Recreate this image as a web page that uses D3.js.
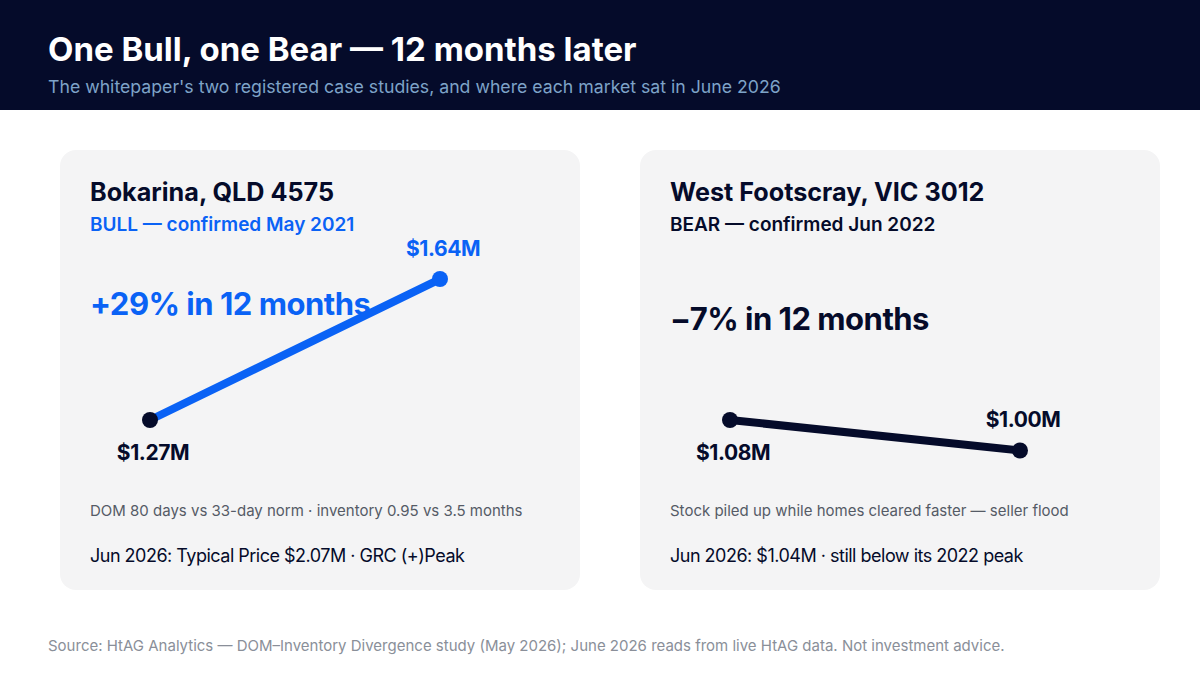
<!DOCTYPE html>
<html><head><meta charset="utf-8">
<script src="https://cdn.jsdelivr.net/npm/d3@7"></script>
<style>
html,body{margin:0;padding:0;background:#fff;}
svg text{font-family:Inter,"Noto Sans",sans-serif;}
</style></head>
<body><svg id="c" width="1200" height="675"></svg>
<script>
// ---- data ----
const suburbs = ["Bokarina, QLD 4575", "West Footscray, VIC 3012"];
const statuses = ["BULL — confirmed May 2021", "BEAR — confirmed Jun 2022"];
const startPrices = [1.27, 1.08];   // $M at confirmation
const endPrices = [1.64, 1.00];     // $M 12 months later
const changeLabels = ["+29% in 12 months", "\u22127% in 12 months"];
const notes = ["DOM 80 days vs 33-day norm · inventory 0.95 vs 3.5 months",
               "Stock piled up while homes cleared faster — seller flood"];
const june2026 = ["Jun 2026: Typical Price $2.07M · GRC (+)Peak",
                  "Jun 2026: $1.04M · still below its 2022 peak"];
const periods = ["Start", "+12 months"];

const svg = d3.select("#c");
const NAVY = "#050b2a", BLUE = "#0a62f5";

// header
svg.append("rect").attr("x",0).attr("y",0).attr("width",1200).attr("height",110).attr("fill",NAVY);
svg.append("text").attr("x",48).attr("y",61).attr("fill","#fff")
  .attr("font-size",33).attr("font-weight",700).attr("letter-spacing",0)
  .text("One Bull, one Bear — 12 months later");
svg.append("text").attr("x",48).attr("y",93).attr("fill","#7ea3c8")
  .attr("font-size",17.7).text("The whitepaper's two registered case studies, and where each market sat in June 2026");

// shared scales
const x = d3.scalePoint().domain(periods).range([0, 290]);
const dy = d3.scaleLinear().domain([0, 1]).range([0, 381]); // px per $1M change

const cardX = [60, 640];
suburbs.forEach((name, i) => {
  const g = svg.append("g").attr("transform", `translate(${cardX[i]},0)`);
  const bull = endPrices[i] > startPrices[i];
  const accent = bull ? BLUE : NAVY;
  g.append("rect").attr("x",0).attr("y",150).attr("width",520).attr("height",440)
    .attr("rx",16).attr("fill","#f4f4f5");
  g.append("text").attr("x",30).attr("y",201).attr("fill",NAVY)
    .attr("font-size",25.2).attr("font-weight",700).attr("letter-spacing",0).text(name);
  g.append("text").attr("x",30).attr("y",231).attr("fill",accent)
    .attr("font-size",19).attr("font-weight",600).attr("letter-spacing",0).text(statuses[i]);

  // chart
  const baseY = 420;
  const y = v => baseY - dy(v - startPrices[i]);
  const pts = [[periods[0], startPrices[i]], [periods[1], endPrices[i]]];
  const ox = 90;
  const line = d3.line().x(d => ox + x(d[0])).y(d => y(d[1]));
  g.append("text").attr("x",30).attr("y", bull ? 315 : 330).attr("fill",accent)
    .attr("font-size",31).attr("font-weight",700).attr("letter-spacing",-0.5).text(changeLabels[i]);
  g.append("path").datum(pts).attr("d",line).attr("fill","none")
    .attr("stroke",accent).attr("stroke-width",8).attr("stroke-linecap","round");
  g.selectAll("circle.pt").data(pts).join("circle")
    .attr("cx",d => ox + x(d[0])).attr("cy",d => y(d[1])).attr("r",8)
    .attr("fill",(d,j) => j === 0 ? NAVY : accent);
  g.selectAll("text.val").data(pts).join("text")
    .attr("x",d => ox + x(d[0]) + 3)
    .attr("y",(d,j) => y(d[1]) + (j === 1 ? -23 : 40))
    .attr("text-anchor","middle").attr("fill",(d,j) => j === 1 ? accent : NAVY)
    .attr("font-size",21).attr("font-weight",700).attr("letter-spacing",-0.4)
    .text(d => "$" + d[1].toFixed(2) + "M");

  g.append("text").attr("x",30).attr("y",516).attr("fill","#555b66")
    .attr("font-size",15).text(notes[i]);
  g.append("text").attr("x",30).attr("y",562).attr("fill",NAVY)
    .attr("font-size",18).attr("letter-spacing",-0.5).text(june2026[i]);
});

svg.append("text").attr("x",48).attr("y",651).attr("fill","#8a8f99")
  .attr("font-size",15).text("Source: HtAG Analytics — DOM–Inventory Divergence study (May 2026); June 2026 reads from live HtAG data. Not investment advice.");
</script></body></html>
